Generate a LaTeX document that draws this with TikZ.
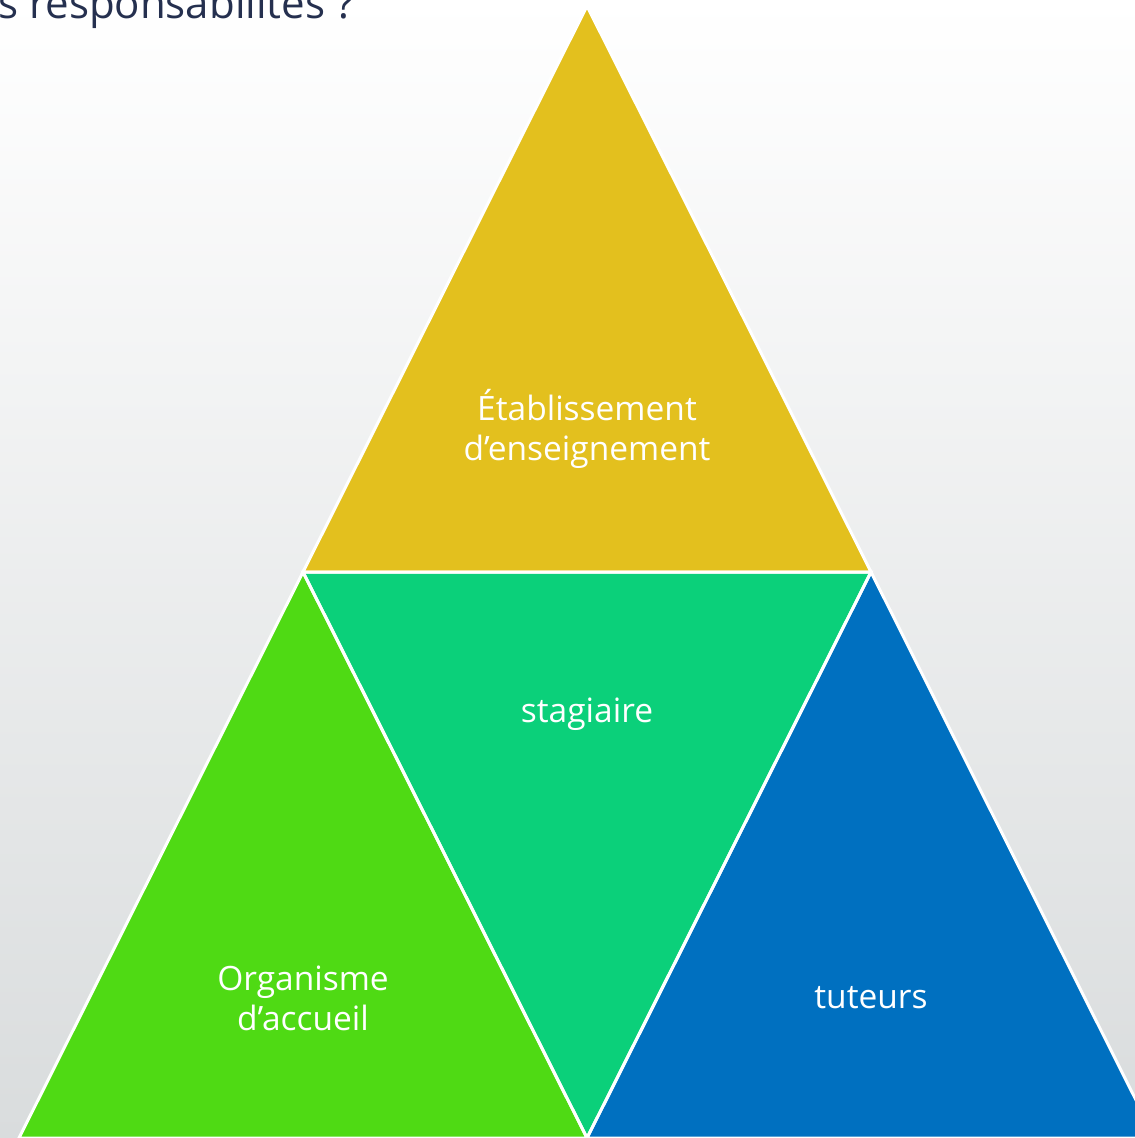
\documentclass[tikz,border=0pt]{standalone}
\usepackage{fontspec}
\setmainfont{Open Sans}
\definecolor{cyellow}{HTML}{E3C01E}
\definecolor{cgreen}{HTML}{4FDA14}
\definecolor{cteal}{HTML}{0BD07A}
\definecolor{cblue}{HTML}{0070C0}
\definecolor{bgtop}{HTML}{FFFFFF}
\definecolor{bgbot}{HTML}{D9DCDD}
\definecolor{ctitle}{HTML}{25304F}
\begin{document}
\begin{tikzpicture}[x=1pt,y=-1pt,
  tri/.style={draw=white,line width=3pt,line join=miter},
  lbl/.style={text=white,font=\fontsize{33.5}{40}\selectfont,align=center}]
\useasboundingbox (0,0) rectangle (1135,1138);
\shade[top color=bgtop,bottom color=bgbot] (0,0) rectangle (1135,1138);
% vertices
\coordinate (A) at (587,6);
\coordinate (L) at (303,572);
\coordinate (R) at (871,572);
\coordinate (BL) at (19,1138);
\coordinate (BM) at (587,1138);
\coordinate (BR) at (1155,1138);
\begin{scope}
\clip (0,0) rectangle (1135,1138);
\fill[cyellow] (A) -- (R) -- (L) -- cycle;
\fill[cteal] (L) -- (R) -- (BM) -- cycle;
\fill[cgreen] (L) -- (BM) -- (BL) -- cycle;
\fill[cblue] (R) -- (BR) -- (BM) -- cycle;
\draw[tri] (A) -- (R) -- (L) -- cycle;
\draw[tri] (L) -- (R) -- (BM) -- cycle;
\draw[tri] (L) -- (BM) -- (BL) -- cycle;
\draw[tri] (R) -- (BR) -- (BM) -- cycle;
\end{scope}
\node[lbl] (etab) at (587,429) {Établissement\\d’enseignement};
\node[lbl] (stag) at (587,714) {stagiaire};
\node[lbl] (org) at (303,998) {Organisme\\d’accueil};
\node[lbl] (tut) at (871,998) {tuteurs};
\node[anchor=base west,inner sep=0pt,text=ctitle,font=\fontsize{42}{48}\selectfont] (title) at (-2,18) {s responsabilités ?};
\end{tikzpicture}
\end{document}
